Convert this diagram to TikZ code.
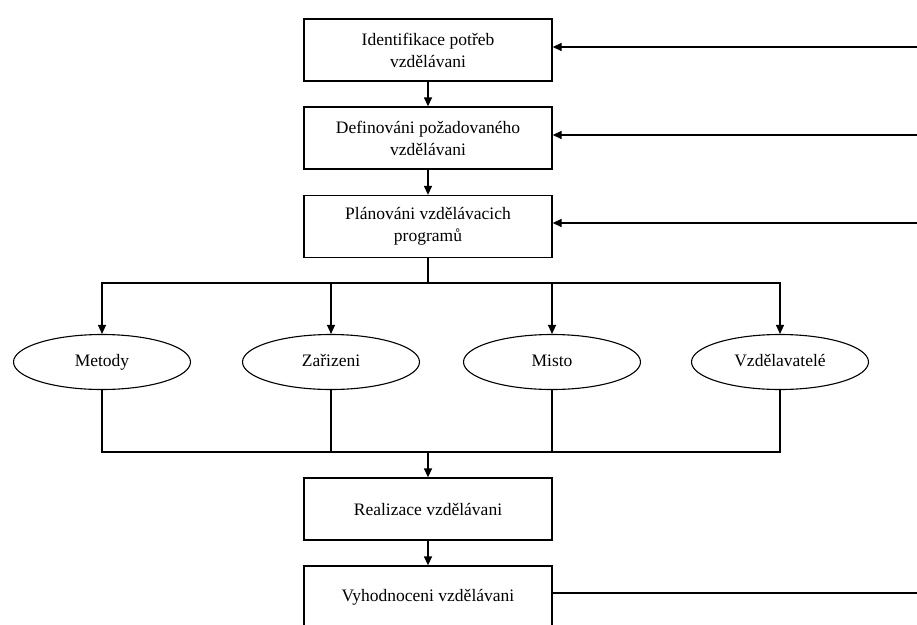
\documentclass[tikz,border=0pt]{standalone}
\usepackage{fontspec}
\newfontfamily\tms{Liberation Serif}
\usetikzlibrary{shapes.geometric,arrows.meta}
\begin{document}
\begin{tikzpicture}[x=1pt,y=-1pt,
  font=\tms\fontsize{17.5}{22}\selectfont,
  line width=1.3pt,
  box/.style={draw, line width=1.3pt, minimum width=248pt, minimum height=62pt, inner sep=0pt, align=center},
  oval/.style={draw, ellipse, line width=1.1pt, minimum width=177pt, minimum height=55pt, inner sep=0pt, text height=0.9em, text depth=0.1em},
  arr/.style={-{Triangle[length=9pt,width=8pt]}},
  ln/.style={line width=1.1pt}]
\clip (0,0) rectangle (917,624);
\node[box] (b1) at (428,50) {Identifikace potřeb\\vzdělávani};
\node[box] (b2) at (428,138) {Definováni požadovaného\\vzdělávani};
\node[box] (b3) at (428,226.5) {Plánováni vzdělávacich\\programů};
\node[oval] (e1) at (102,362) {Metody};
\node[oval] (e2) at (331,362) {Zařizeni};
\node[oval] (e3) at (552,362) {Misto};
\node[oval] (e4) at (780,362) {Vzdělavatelé};
\node[box] (b4) at (428,509) {Realizace vzdělávani};
\node[box] (b5) at (428,597) {Vyhodnoceni vzdělávani};
\coordinate (r1) at (917,47);
\coordinate (r2) at (917,135);
\coordinate (r3) at (917,223);
\coordinate (r5) at (917,593);
\coordinate (split) at (428,283);
\coordinate (merge) at (428,452);
\draw[arr] (b1) -- (b2);
\draw[arr] (b2) -- (b3);
\draw[ln] (b3.south) -- (split);
\draw[ln,arr] (split) -| (e1.north);
\draw[ln,arr] (split) -| (e2.north);
\draw[ln,arr] (split) -| (e3.north);
\draw[ln,arr] (split) -| (e4.north);
\draw[ln] (e1.south) |- (merge);
\draw[ln] (e2.south) |- (merge);
\draw[ln] (e3.south) |- (merge);
\draw[ln] (e4.south) |- (merge);
\draw[arr] (merge) -- (b4.north);
\draw[arr] (b4) -- (b5);
\draw[arr] (r1) -- (r1 -| b1.east);
\draw[arr] (r2) -- (r2 -| b2.east);
\draw[arr] (r3) -- (r3 -| b3.east);
\draw (r5 -| b5.east) -- (r5);
\end{tikzpicture}
\end{document}
